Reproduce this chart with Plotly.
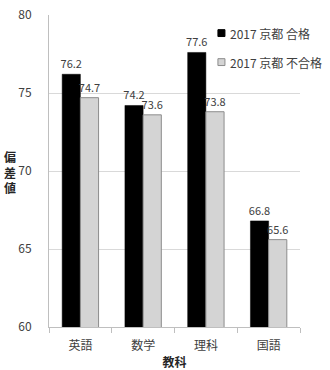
import plotly.graph_objects as go

categories = ["英語", "数学", "理科", "国語"]
pass_vals = [76.2, 74.2, 77.6, 66.8]
fail_vals = [74.7, 73.6, 73.8, 65.6]
series_names = ["2017 京都 合格", "2017 京都 不合格"]
y_ticks = [60, 65, 70, 75, 80]

FONT = "Noto Sans CJK JP"
LBL = dict(size=11, color="#404040", family=FONT)
fig = go.Figure()
fig.add_trace(go.Bar(
    x=categories, y=pass_vals, name=series_names[0],
    marker=dict(color="#000000", line=dict(color="#000000", width=0.5)),
    text=[f"{v:.1f}" for v in pass_vals], textposition="outside",
    textfont=LBL, outsidetextfont=LBL, constraintext="none", cliponaxis=False,
    showlegend=False,
))
fig.add_trace(go.Bar(
    x=categories, y=fail_vals, name=series_names[1],
    marker=dict(color="#d4d4d4", line=dict(color="#8c8c8c", width=1)),
    text=[f"{v:.1f}" for v in fail_vals], textposition="outside",
    textfont=LBL, outsidetextfont=LBL, constraintext="none", cliponaxis=False,
    showlegend=False,
))

fig.update_layout(
    width=330, height=370,
    margin=dict(l=49, r=30, t=15, b=43, autoexpand=False),
    paper_bgcolor="white", plot_bgcolor="white",
    barmode="group", bargap=0.42, bargroupgap=0,
    font=dict(family=FONT, size=11, color="#404040"),
    showlegend=False,
)
fig.update_yaxes(range=[60, 80], tickvals=y_ticks, showgrid=True,
                 gridcolor="#d9d9d9", gridwidth=1, showline=True,
                 linecolor="#bfbfbf", linewidth=1, ticks="",
                 ticklabelstandoff=14, zeroline=False,
                 tickfont=dict(size=12, color="#404040"))
fig.update_xaxes(showline=True, linecolor="#bfbfbf", linewidth=1,
                 ticks="outside", tickson="boundaries", ticklen=5,
                 tickcolor="#bfbfbf", ticklabelstandoff=8,
                 tickfont=dict(size=12, color="#404040"),
                 title=dict(text="<b>教科</b>", font=dict(size=12, color="#262626"), standoff=6))
fig.add_annotation(text="<b>偏<br>差<br>値</b>", xref="paper", yref="paper",
                   x=-0.155, y=0.497, xanchor="center", yanchor="middle",
                   showarrow=False, font=dict(size=12, color="#262626"))

# custom legend
leg_rows = [(0.942, "#000000", "#000000"), (0.849, "#d4d4d4", "#8c8c8c")]
for (yy, fc, lc), name in zip(leg_rows, series_names):
    fig.add_shape(type="rect", xref="paper", yref="paper",
                  x0=0.673, x1=0.701, y0=yy - 0.011, y1=yy + 0.011,
                  fillcolor=fc, line=dict(color=lc, width=1))
    fig.add_annotation(text=name, xref="paper", yref="paper",
                       x=0.713, y=yy, xanchor="left", yanchor="middle",
                       showarrow=False, font=dict(size=12, color="#404040"))

fig.write_html("out.html")
